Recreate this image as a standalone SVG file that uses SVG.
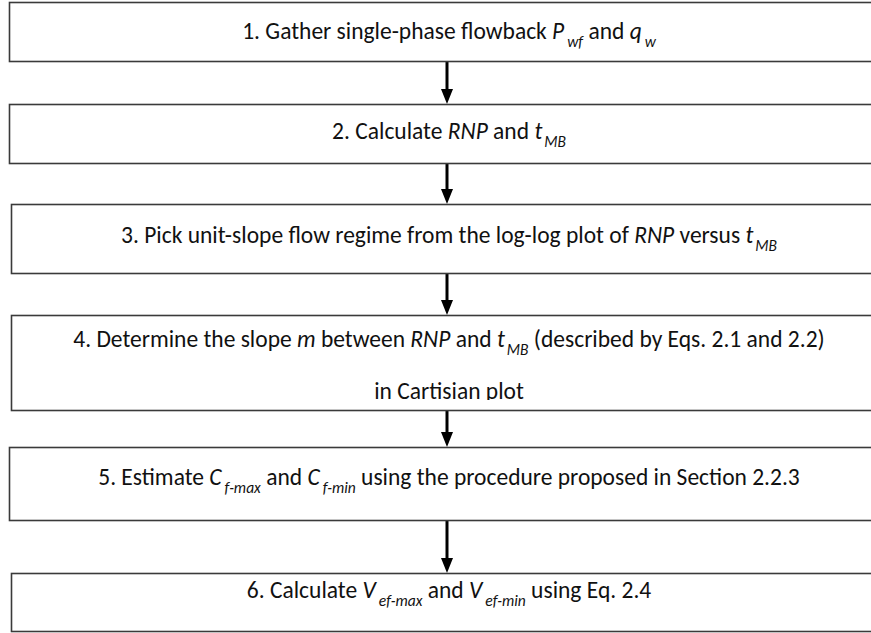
<svg xmlns="http://www.w3.org/2000/svg" width="871" height="633" viewBox="0 0 871 633">
<defs>
<style>
.box{fill:#fff;stroke:#3a3a3a;stroke-width:1.6}
.t{font-family:Carlito,"Liberation Sans",sans-serif;font-size:23.5px;fill:#111;text-anchor:middle}
.i{font-style:italic}
.s{font-style:italic;font-size:15.5px}
.c{stroke:#000;stroke-width:3;fill:none}
</style>
<clipPath id="clip4"><rect x="0" y="315" width="871" height="85"/></clipPath>
</defs>
<rect width="871" height="633" fill="#fff"/>
<g id="connectors">
<path class="c" d="M447,62 V91"/><path d="M441,89 L453,89 L447,104 Z"/>
<path class="c" d="M447,164 V191"/><path d="M441,189 L453,189 L447,204 Z"/>
<path class="c" d="M447,274 V302"/><path d="M441,300 L453,300 L447,315 Z"/>
<path class="c" d="M447,411 V434"/><path d="M441,432 L453,432 L447,447 Z"/>
<path class="c" d="M447,521 V560"/><path d="M441,558 L453,558 L447,573 Z"/>
</g>
<g id="step1">
<rect class="box" x="9.5" y="2.5" width="880" height="59"/>
<text class="t" x="449" y="39">1. Gather single-phase flowback <tspan class="i">P</tspan><tspan class="s" dx="3" dy="8">wf</tspan><tspan dy="-8"> and </tspan><tspan class="i">q</tspan><tspan class="s" dx="3" dy="8">w</tspan></text>
</g>
<g id="step2">
<rect class="box" x="9.5" y="104.5" width="880" height="59"/>
<text class="t" x="449" y="139">2. Calculate <tspan class="i">RNP</tspan> and <tspan class="i">t</tspan><tspan class="s" dx="2" dy="8">MB</tspan></text>
</g>
<g id="step3">
<rect class="box" x="11.5" y="204.5" width="880" height="69"/>
<text class="t" x="449" y="243">3. Pick unit-slope flow regime from the log-log plot of <tspan class="i">RNP</tspan> versus <tspan class="i">t</tspan><tspan class="s" dx="2" dy="8">MB</tspan></text>
</g>
<g id="step4">
<rect class="box" x="11.5" y="315.5" width="880" height="95"/>
<text class="t" x="449" y="347">4. Determine the slope <tspan class="i">m</tspan> between <tspan class="i">RNP</tspan> and <tspan class="i">t</tspan><tspan class="s" dx="2" dy="8">MB</tspan><tspan dy="-8"> (described by Eqs. 2.1 and 2.2)</tspan></text>
<text class="t" x="449" y="399" clip-path="url(#clip4)">in Cartisian plot</text>
</g>
<g id="step5">
<rect class="box" x="9.5" y="447.5" width="880" height="73"/>
<text class="t" x="449" y="485">5. Estimate <tspan class="i">C</tspan><tspan class="s" dx="3" dy="8">f-max</tspan><tspan dy="-8"> and </tspan><tspan class="i">C</tspan><tspan class="s" dx="3" dy="8">f-min</tspan><tspan dy="-8"> using the procedure proposed in Section 2.2.3</tspan></text>
</g>
<g id="step6">
<rect class="box" x="11.5" y="573.5" width="880" height="58"/>
<text class="t" x="449" y="598">6. Calculate <tspan class="i">V</tspan><tspan class="s" dx="3" dy="8">ef-max</tspan><tspan dy="-8"> and </tspan><tspan class="i">V</tspan><tspan class="s" dx="3" dy="8">ef-min</tspan><tspan dy="-8"> using Eq. 2.4</tspan></text>
</g>
</svg>
